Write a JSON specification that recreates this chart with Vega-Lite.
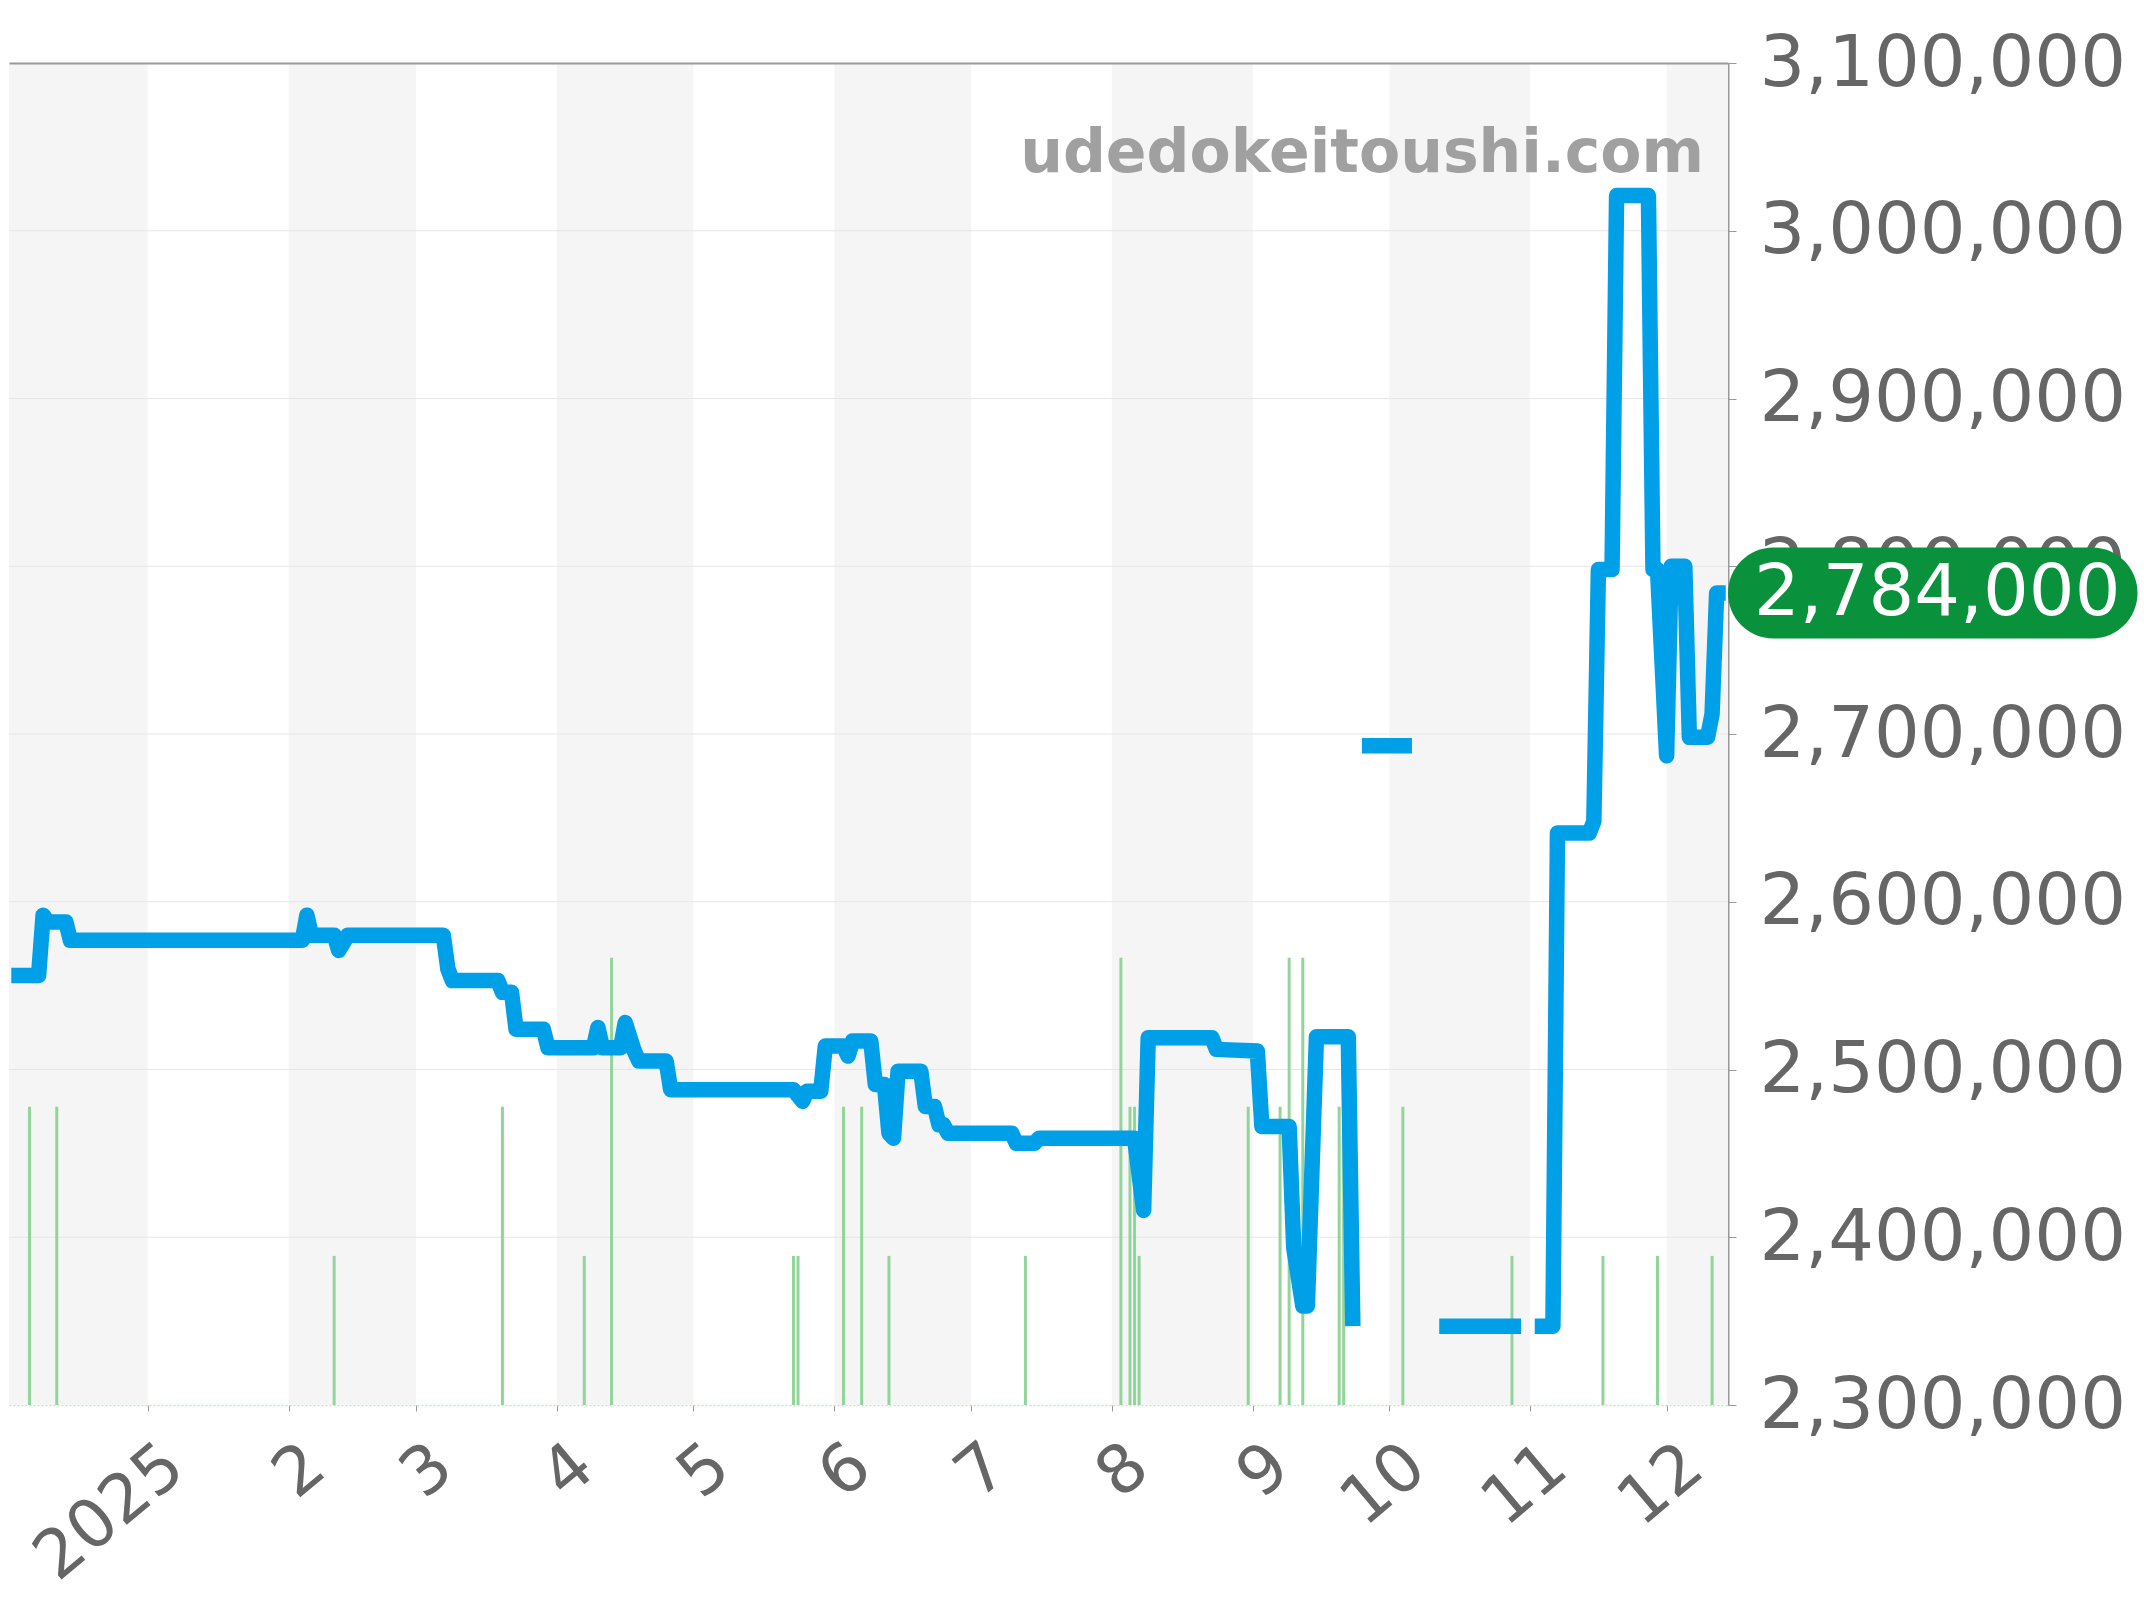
{
  "$schema": "https://vega.github.io/schema/vega-lite/v6.json",
  "width": 1719,
  "height": 1342,
  "autosize": {"type": "none"},
  "padding": {"left": 9, "top": 63, "right": 416, "bottom": 195},
  "background": "#ffffff",
  "config": {"view": {"stroke": null}, "font": "DejaVu Sans"},
  "title": {"text": "udedokeitoushi.com", "anchor": "end", "frame": "group", "orient": "top", "offset": -205, "dx": -24, "fontSize": 60, "fontWeight": "bold", "color": "#a0a0a0", "font": "DejaVu Sans", "baseline": "alphabetic"},
  "datasets": {
    "bands": [
      {"s": "2024-12-01", "e": "2025-01-01"},
      {"s": "2025-02-01", "e": "2025-03-01"},
      {"s": "2025-04-01", "e": "2025-05-01"},
      {"s": "2025-06-01", "e": "2025-07-01"},
      {"s": "2025-08-01", "e": "2025-09-01"},
      {"s": "2025-10-01", "e": "2025-11-01"},
      {"s": "2025-12-01", "e": "2026-01-01"}
    ],
    "grid": [{"v": 2400000}, {"v": 2500000}, {"v": 2600000}, {"v": 2700000}, {"v": 2800000}, {"v": 2900000}, {"v": 3000000}],
    "vol": [
      {"d": "2024-12-06", "n": 2}, {"d": "2024-12-12", "n": 2}, {"d": "2025-02-11", "n": 1}, {"d": "2025-03-20", "n": 2},
      {"d": "2025-04-07", "n": 1}, {"d": "2025-04-13", "n": 3}, {"d": "2025-05-23", "n": 1}, {"d": "2025-05-24", "n": 1},
      {"d": "2025-06-03", "n": 2}, {"d": "2025-06-07", "n": 2}, {"d": "2025-06-13", "n": 1}, {"d": "2025-07-13", "n": 1},
      {"d": "2025-08-03", "n": 3}, {"d": "2025-08-05", "n": 2}, {"d": "2025-08-06", "n": 2}, {"d": "2025-08-07", "n": 1},
      {"d": "2025-08-31", "n": 2}, {"d": "2025-09-07", "n": 2}, {"d": "2025-09-09", "n": 3}, {"d": "2025-09-12", "n": 3},
      {"d": "2025-09-20", "n": 2}, {"d": "2025-09-21", "n": 2}, {"d": "2025-10-04", "n": 2}, {"d": "2025-10-28", "n": 1},
      {"d": "2025-11-17", "n": 1}, {"d": "2025-11-29", "n": 1}, {"d": "2025-12-11", "n": 1}
    ],
    "price": [
      {"d": "2024-12-02", "p": 2556000}, {"d": "2024-12-08", "p": 2556000}, {"d": "2024-12-09", "p": 2592000},
      {"d": "2024-12-10", "p": 2588000}, {"d": "2024-12-14", "p": 2588000}, {"d": "2024-12-15", "p": 2577000},
      {"d": "2025-02-04", "p": 2577000}, {"d": "2025-02-05", "p": 2592000}, {"d": "2025-02-06", "p": 2580000},
      {"d": "2025-02-11", "p": 2580000}, {"d": "2025-02-12", "p": 2571000}, {"d": "2025-02-14", "p": 2580000},
      {"d": "2025-03-07", "p": 2580000}, {"d": "2025-03-08", "p": 2560000}, {"d": "2025-03-09", "p": 2553000},
      {"d": "2025-03-19", "p": 2553000}, {"d": "2025-03-20", "p": 2546000}, {"d": "2025-03-22", "p": 2546000},
      {"d": "2025-03-23", "p": 2524000}, {"d": "2025-03-29", "p": 2524000}, {"d": "2025-03-30", "p": 2513000},
      {"d": "2025-04-09", "p": 2513000}, {"d": "2025-04-10", "p": 2525000}, {"d": "2025-04-11", "p": 2513000},
      {"d": "2025-04-15", "p": 2513000}, {"d": "2025-04-16", "p": 2528000}, {"d": "2025-04-18", "p": 2511000},
      {"d": "2025-04-19", "p": 2505000}, {"d": "2025-04-25", "p": 2505000}, {"d": "2025-04-26", "p": 2488000},
      {"d": "2025-05-23", "p": 2488000}, {"d": "2025-05-25", "p": 2481000}, {"d": "2025-05-26", "p": 2487000},
      {"d": "2025-05-29", "p": 2487000}, {"d": "2025-05-30", "p": 2514000}, {"d": "2025-06-03", "p": 2514000},
      {"d": "2025-06-04", "p": 2508000}, {"d": "2025-06-05", "p": 2517000}, {"d": "2025-06-09", "p": 2517000},
      {"d": "2025-06-10", "p": 2491000}, {"d": "2025-06-12", "p": 2491000}, {"d": "2025-06-13", "p": 2462000},
      {"d": "2025-06-14", "p": 2459000}, {"d": "2025-06-15", "p": 2499000}, {"d": "2025-06-20", "p": 2499000},
      {"d": "2025-06-21", "p": 2478000}, {"d": "2025-06-23", "p": 2478000}, {"d": "2025-06-24", "p": 2467000},
      {"d": "2025-06-25", "p": 2467000}, {"d": "2025-06-26", "p": 2462000}, {"d": "2025-07-10", "p": 2462000},
      {"d": "2025-07-11", "p": 2456000}, {"d": "2025-07-15", "p": 2456000}, {"d": "2025-07-16", "p": 2459000},
      {"d": "2025-08-06", "p": 2459000}, {"d": "2025-08-08", "p": 2416000}, {"d": "2025-08-09", "p": 2519000},
      {"d": "2025-08-23", "p": 2519000}, {"d": "2025-08-24", "p": 2512000}, {"d": "2025-09-02", "p": 2511000},
      {"d": "2025-09-03", "p": 2466000}, {"d": "2025-09-09", "p": 2466000}, {"d": "2025-09-10", "p": 2394000},
      {"d": "2025-09-12", "p": 2359000}, {"d": "2025-09-13", "p": 2359000}, {"d": "2025-09-15", "p": 2519500},
      {"d": "2025-09-22", "p": 2519500}, {"d": "2025-09-23", "p": 2347000}, {"d": "2025-09-24", "p": null},
      {"d": "2025-09-25", "p": 2693000}, {"d": "2025-10-06", "p": 2693000}, {"d": "2025-10-07", "p": null},
      {"d": "2025-10-12", "p": 2347000}, {"d": "2025-10-30", "p": 2347000}, {"d": "2025-10-31", "p": null},
      {"d": "2025-11-02", "p": 2347000}, {"d": "2025-11-06", "p": 2347000}, {"d": "2025-11-07", "p": 2641000},
      {"d": "2025-11-14", "p": 2641000}, {"d": "2025-11-15", "p": 2648000}, {"d": "2025-11-16", "p": 2798000},
      {"d": "2025-11-19", "p": 2798000}, {"d": "2025-11-20", "p": 3021000}, {"d": "2025-11-27", "p": 3021000},
      {"d": "2025-11-28", "p": 2798000}, {"d": "2025-11-29", "p": 2798000}, {"d": "2025-12-01", "p": 2687000},
      {"d": "2025-12-02", "p": 2800000}, {"d": "2025-12-05", "p": 2800000}, {"d": "2025-12-06", "p": 2698000},
      {"d": "2025-12-10", "p": 2698000}, {"d": "2025-12-11", "p": 2712000}, {"d": "2025-12-12", "p": 2784000},
      {"d": "2025-12-14", "p": 2784000}
    ],
    "last": [{"d": "2025-12-14", "p": 2784000}]
  },
  "resolve": {"scale": {"y": "independent"}, "axis": {"x": "independent", "y": "independent"}},
  "layer": [
    {
      "data": {"name": "bands"},
      "mark": {"type": "rect", "color": "#f5f5f5", "clip": true},
      "encoding": {
        "x": {"field": "s", "type": "temporal",
              "scale": {"type": "utc", "domain": [{"year": 2024, "month": 12, "date": 1, "hours": 12, "utc": true}, {"year": 2025, "month": 12, "date": 14, "hours": 12, "utc": true}]},
              "axis": {"orient": "top", "labels": false, "ticks": false, "grid": false, "title": null, "domainColor": "#999999", "domainWidth": 2, "zindex": 1}},
        "x2": {"field": "e"}
      }
    },
    {
      "data": {"name": "grid"},
      "mark": {"type": "rule", "color": "#e6e6e6", "strokeWidth": 1},
      "encoding": {
        "y": {"field": "v", "type": "quantitative", "scale": {"domain": [2300000, 3100000]}, "axis": null}
      }
    },
    {
      "data": {"name": "vol"},
      "mark": {"type": "rule", "color": "#92d59a", "strokeWidth": 3},
      "encoding": {
        "x": {"field": "d", "type": "temporal", "axis": null},
        "y": {"field": "n", "type": "quantitative", "scale": {"domain": [0, 9]}, "axis": null},
        "y2": {"datum": 0}
      }
    },
    {
      "data": {"name": "price"},
      "mark": {"type": "line", "color": "#00a0e9", "strokeWidth": 15.5, "strokeJoin": "round", "strokeCap": "butt", "invalid": "break-paths-show-domains"},
      "encoding": {
        "x": {"field": "d", "type": "temporal",
              "axis": {"orient": "bottom", "tickCount": {"interval": "month", "step": 1},
                       "labelExpr": "utcFormat(datum.value, '%m') == '01' ? utcFormat(datum.value, '%Y') : utcFormat(datum.value, '%-m')",
                       "labelAngle": -40, "labelAlign": "right", "labelBaseline": "top", "labelFontSize": 67, "labelColor": "#666666",
                       "labelPadding": 21, "labelOffset": 6, "labelLimit": 0, "tickSize": 6, "tickColor": "#999999",
                       "domain": true, "domainColor": "#bfe6bf", "domainDash": [2, 2], "domainWidth": 1.5,
                       "grid": false, "title": null, "labelOverlap": false, "labelFlush": false, "labelBound": false}},
        "y": {"field": "p", "type": "quantitative", "scale": {"domain": [2300000, 3100000]},
              "axis": {"orient": "right", "values": [2300000, 2400000, 2500000, 2600000, 2700000, 2800000, 2900000, 3000000, 3100000],
                       "format": ",.0f", "labelFontSize": 72, "labelColor": "#666666", "labelPadding": 23, "labelLimit": 0, "tickSize": 8, "tickColor": "#999999",
                       "domainColor": "#999999", "domainWidth": 2, "grid": false, "title": null, "labelOverlap": false, "labelFlush": false, "labelBound": false}}
      }
    },
    {
      "data": {"name": "last"},
      "mark": {"type": "point", "shape": "M1,-1H8.0A1,1,0,0,1,8.0,1H1A1,1,0,0,1,1,-1Z", "size": 8281, "filled": true, "color": "#0a913c", "opacity": 1, "strokeWidth": 0},
      "encoding": {
        "x": {"value": "width"},
        "y": {"field": "p", "type": "quantitative", "scale": {"domain": [2300000, 3100000]}, "axis": null}
      }
    },
    {
      "data": {"name": "last"},
      "mark": {"type": "text", "align": "left", "baseline": "middle", "dx": 26, "fontSize": 72, "color": "#ffffff", "font": "DejaVu Sans"},
      "encoding": {
        "x": {"value": "width"},
        "y": {"field": "p", "type": "quantitative", "scale": {"domain": [2300000, 3100000]}, "axis": null},
        "text": {"field": "p", "type": "quantitative", "format": ",.0f"}
      }
    }
  ]
}
